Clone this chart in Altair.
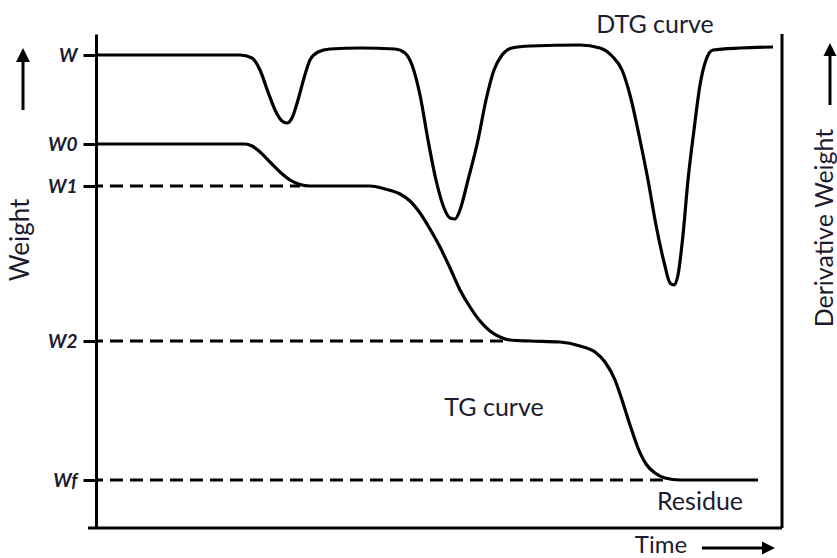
import altair as alt
import pandas as pd

# Time in minutes; weight and derivative share one arbitrary vertical unit
dtg_time = [0, 14.4, 15.6, 16.4, 17.2, 18.0, 18.6, 19.1, 19.6, 20.2, 20.8, 21.4, 22.2,
            23.4, 26.4, 29.9, 30.9, 31.6, 32.4, 33.2, 34.0, 34.8, 35.4, 35.9, 36.4,
            37.2, 38.2, 39.0, 39.8, 40.6, 41.6, 43.4, 48.4, 50.4, 51.6, 52.6, 53.4,
            54.4, 55.2, 56.0, 56.8, 57.4, 57.8, 58.2, 58.7, 59.2, 59.8, 60.4, 61.0,
            61.7, 64.4, 67.7]
dtg_value = [94.6, 94.6, 94.0, 91.6, 87.2, 83.2, 81.4, 81.0, 82.0, 85.6, 90.0, 93.6, 95.2,
             95.8, 96.0, 95.8, 95.0, 92.6, 86.6, 77.6, 69.6, 64.0, 62.0, 61.8, 63.6,
             69.6, 77.6, 85.6, 91.6, 94.6, 96.0, 96.4, 96.6, 96.0, 94.4, 91.6, 86.6,
             77.6, 69.6, 60.6, 53.2, 49.0, 48.6, 50.6, 58.6, 69.6, 79.6, 88.6, 93.6,
             95.6, 96.0, 96.2]

tg_time = [0, 14.9, 15.6, 16.4, 17.4, 18.4, 19.4, 20.4, 21.4, 27.4, 28.9, 30.4, 31.4,
           32.4, 33.4, 34.4, 35.4, 36.4, 37.4, 38.4, 39.4, 40.4, 41.4, 43.4, 46.4,
           48.4, 49.9, 50.9, 51.9, 52.6, 53.4, 54.2, 55.0, 55.9, 56.9, 58.4, 66.2]
tg_weight = [76.8, 76.8, 76.4, 75.2, 73.2, 71.2, 69.6, 68.7, 68.4, 68.4, 67.8, 66.8, 65.4,
             63.0, 59.8, 56.2, 52.0, 47.6, 44.2, 41.4, 39.4, 38.2, 37.6, 37.4, 37.2,
             36.4, 35.2, 33.2, 29.6, 25.6, 20.6, 16.0, 12.8, 11.0, 10.0, 9.6, 9.6]

level_names = ["W", "W0", "W1", "W2", "Wf"]
level_values = [94.6, 76.8, 68.4, 37.4, 9.6]

step_names = ["W1", "W2", "Wf"]
step_values = [68.4, 37.4, 9.6]
step_end = [20.4, 40.9, 57.4]

FONT = "Lato"
INK = "#1c1c2e"

x_scale = alt.Scale(domain=[0, 68.6], nice=False, zero=False)
y_scale = alt.Scale(domain=[0, 98.8], nice=False, zero=False)

label_expr = "".join(
    f"abs(datum.value - {v}) < 0.01 ? '{n}' : " for n, v in zip(level_names, level_values)
) + "''"

# the same left axis on every layer that uses the weight scale, so it merges cleanly
y_axis = alt.Axis(
    values=level_values, labelExpr=label_expr, title=None, grid=False,
    domainColor="black", domainWidth=3, tickColor="black", tickWidth=3,
    tickSize=13, labelPadding=6, labelFont=FONT, labelFontSize=19,
    labelFontWeight="bold", labelFontStyle="italic", labelColor=INK,
    labelOverlap=False, labelBound=False)

tg_df = pd.DataFrame({"t": tg_time, "v": tg_weight})
dtg_df = pd.DataFrame({"t": dtg_time, "v": dtg_value})
steps_df = pd.DataFrame({"name": step_names, "v": step_values,
                         "t0": [0] * len(step_names), "t1": step_end})

tg_line = alt.Chart(tg_df).mark_line(
    color="black", strokeWidth=3.2, interpolate="monotone", strokeJoin="round"
).encode(
    x=alt.X("t:Q", scale=x_scale, axis=None),
    y=alt.Y("v:Q", scale=y_scale, axis=y_axis),
)

dtg_line = alt.Chart(dtg_df).mark_line(
    color="black", strokeWidth=3.2, interpolate="monotone", strokeJoin="round"
).encode(
    x=alt.X("t:Q", scale=x_scale, axis=None),
    y=alt.Y("v:Q", scale=y_scale, axis=y_axis),
)

step_rules = alt.Chart(steps_df).mark_rule(
    color="black", strokeWidth=3, strokeDash=[13, 7], strokeDashOffset=6, strokeCap="butt"
).encode(
    x=alt.X("t0:Q", scale=x_scale, axis=None),
    x2="t1:Q",
    y=alt.Y("v:Q", scale=y_scale, axis=y_axis),
)

# frame: bottom axis and right axis
bottom_rule = alt.Chart().mark_rule(color="black", strokeWidth=3).encode(
    x=alt.value(-8), x2=alt.value(686), y=alt.value(494))
right_rule = alt.Chart().mark_rule(color="black", strokeWidth=3).encode(
    x=alt.value(686), y=alt.value(0), y2=alt.value(494))

# direction arrows
up_head = "M0,-1L1,1L-1,1Z"
right_head = "M1,0L-1,-1L-1,1Z"
left_shaft = alt.Chart().mark_rule(color="black", strokeWidth=3).encode(
    x=alt.value(-73), y=alt.value(76), y2=alt.value(24))
left_tip = alt.Chart().mark_point(shape=up_head, filled=True, color="black",
                                  size=196, opacity=1, strokeWidth=0).encode(
    x=alt.value(-73), y=alt.value(21))
right_shaft = alt.Chart().mark_rule(color="black", strokeWidth=3).encode(
    x=alt.value(734), y=alt.value(71), y2=alt.value(19))
right_tip = alt.Chart().mark_point(shape=up_head, filled=True, color="black",
                                   size=169, opacity=1, strokeWidth=0).encode(
    x=alt.value(734), y=alt.value(15.5))
time_shaft = alt.Chart().mark_rule(color="black", strokeWidth=3).encode(
    x=alt.value(606), x2=alt.value(670), y=alt.value(514))
time_tip = alt.Chart().mark_point(shape=right_head, filled=True, color="black",
                                  size=169, opacity=1, strokeWidth=0).encode(
    x=alt.value(672.5), y=alt.value(514))


def label(text, x, y, size=25, angle=0):
    return alt.Chart(pd.DataFrame({"label": [text]})).mark_text(
        font=FONT, fontSize=size, color=INK, align="center",
        baseline="alphabetic", angle=angle
    ).encode(x=alt.value(x), y=alt.value(y), text="label:N")


texts = [
    label("DTG curve", 559, -1),
    label("TG curve", 398, 382),
    label("Residue", 604, 476),
    label("Time", 565, 519, size=24),
    label("Weight", -67, 206, size=26, angle=270),
    label("Derivative Weight", 737, 194, size=25, angle=270),
]

chart = alt.layer(
    step_rules, tg_line, dtg_line, bottom_rule, right_rule,
    left_shaft, left_tip, right_shaft, right_tip, time_shaft, time_tip,
    *texts
).properties(
    width=686, height=494,
    padding={"left": 96, "top": 34, "right": 55, "bottom": 30},
    autosize=alt.AutoSizeParams(type="none"),
    background="white",
).configure_view(stroke=None)

chart.save("out.html", embed_options={"renderer": "svg", "actions": False})
